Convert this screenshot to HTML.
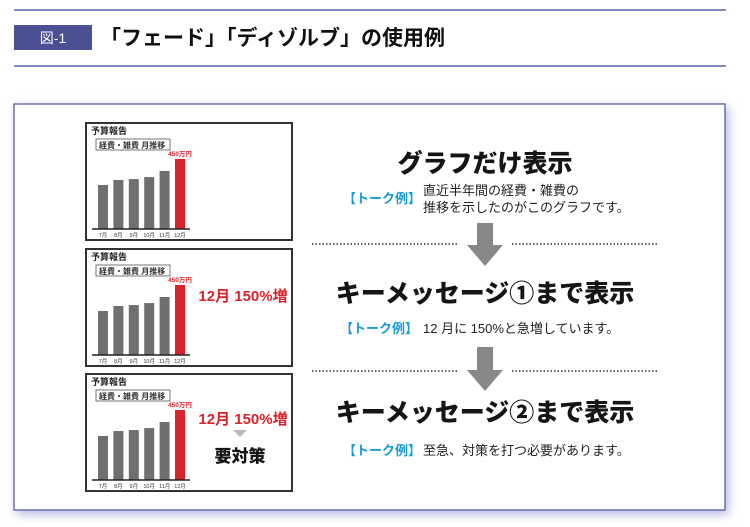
<!DOCTYPE html>
<html><head><meta charset="utf-8">
<style>
html,body{margin:0;padding:0;background:#fff;}
svg{display:block;font-family:"Liberation Sans","Noto Sans CJK JP",sans-serif;}
</style></head>
<body>
<svg id="root" width="750" height="527" viewBox="0 0 750 527" xmlns="http://www.w3.org/2000/svg">
<defs>
<filter id="sh" x="-5%" y="-5%" width="110%" height="115%">
<feDropShadow dx="3" dy="4" stdDeviation="5" flood-color="#9a9ad8" flood-opacity="0.7"/>
</filter>
</defs>
<line x1="14" y1="10" x2="726" y2="10" stroke="#5a5ea8" stroke-width="1.5"/>
<rect x="14" y="25" width="78" height="25" fill="#4b4f94"/>
<text x="53" y="43" font-size="14" fill="#fff" text-anchor="middle">図-1</text>
<text x="100" y="45" font-size="21" font-weight="bold" fill="#111">「フェード」「ディゾルブ」の使用例</text>
<line x1="14" y1="66" x2="726" y2="66" stroke="#5a5ea8" stroke-width="1.5"/>

<rect x="14" y="104" width="711" height="406" fill="#fff" stroke="#4b4f94" stroke-width="1.2" filter="url(#sh)"/>

<g id="charts"></g>

<!-- right side -->
<text x="485" y="172" font-size="25" font-weight="900" fill="#151515" text-anchor="middle">グラフだけ表示</text>
<text x="343" y="203" font-size="13" font-weight="bold" fill="#1a9ad6">【トーク例】</text>
<text x="423" y="195" font-size="13" fill="#222">直近半年間の経費・雑費の</text>
<text x="423" y="212" font-size="13" fill="#222">推移を示したのがこのグラフです。</text>
<line x1="312" y1="244" x2="458" y2="244" stroke="#333" stroke-width="1.5" stroke-dasharray="1.5 2"/>
<line x1="512" y1="244" x2="657" y2="244" stroke="#333" stroke-width="1.5" stroke-dasharray="1.5 2"/>
<polygon points="477,223 493,223 493,245 503,245 485,266 467,245 477,245" fill="#888"/>

<text x="485" y="302" font-size="25" font-weight="900" fill="#151515" text-anchor="middle">キーメッセージ①まで表示</text>
<text x="340" y="333" font-size="13" font-weight="bold" fill="#1a9ad6">【トーク例】</text>
<text x="423" y="333" font-size="13" fill="#222">12 月に 150%と急増しています。</text>
<line x1="312" y1="371" x2="458" y2="371" stroke="#333" stroke-width="1.5" stroke-dasharray="1.5 2"/>
<line x1="512" y1="371" x2="657" y2="371" stroke="#333" stroke-width="1.5" stroke-dasharray="1.5 2"/>
<polygon points="477,347 493,347 493,370 503,370 485,391 467,370 477,370" fill="#888"/>

<text x="485" y="421" font-size="25" font-weight="900" fill="#151515" text-anchor="middle">キーメッセージ②まで表示</text>
<text x="343" y="455" font-size="13" font-weight="bold" fill="#1a9ad6">【トーク例】</text>
<text x="423" y="455" font-size="13" fill="#222">至急、対策を打つ必要があります。</text>
</svg>
<script>
const months = ["7月","8月","9月","10月","11月","12月"];
const expenses = [283, 315, 321, 334, 373, 450];
const highlightLabel = "450万円";
const boxTops = [123, 249, 374];

const NS = "http://www.w3.org/2000/svg";
const g = document.getElementById("charts");
function mk(tag, attrs, parent) {
  const e = document.createElementNS(NS, tag);
  for (const k in attrs) e.setAttribute(k, attrs[k]);
  parent.appendChild(e);
  return e;
}
const maxV = Math.max(...expenses);
function yScale(v, base) { return base - v / maxV * 70; }
function xBand(i) { return 98 + i * 15.4; }

boxTops.forEach((top, bi) => {
  const grp = mk("g", {}, g);
  
  
  const frame = mk("rect", {x: 86, y: top, width: 206, height: 117, fill: "#fff", stroke: "#333", "stroke-width": 2}, grp);
  
  
  const t = mk("text", {x: 91, y: top + 11, "font-size": 9, "font-weight": "bold", fill: "#222"}, grp);
  t.textContent = "予算報告";
  
  
  const sb = mk("rect", {x: 96, y: top + 16, width: 74, height: 11, fill: "#fff", stroke: "#555", "stroke-width": 0.8}, grp);
  
  
  const st = mk("text", {x: 99, y: top + 25, "font-size": 8, "font-weight": "bold", fill: "#333"}, grp);
  st.textContent = "経費・雑費 月推移";
  
  
  const base = top + 106;
  expenses.forEach((v, i) => {
    const y = yScale(v, base);
    const last = i === expenses.length - 1;
    const b = mk("rect", {x: xBand(i), y: y, width: 10, height: base - y, fill: last ? "#d9232b" : "#6f6f6f"}, grp);
    
    
    const ml = mk("text", {x: xBand(i) + 5, y: base + 8, "font-size": 5.5, fill: "#333", "text-anchor": "middle"}, grp);
    ml.textContent = months[i];
    
    
    if (last) {
      const vl = mk("text", {x: xBand(i) + 5, y: y - 3, "font-size": 6.5, "font-weight": "bold", fill: "#d9232b", "text-anchor": "middle"}, grp);
      vl.textContent = highlightLabel;
      
      
    }
  });
  const ax = mk("line", {x1: 92, y1: base, x2: 190, y2: base, stroke: "#222", "stroke-width": 1.5}, grp);
  
  
  if (bi >= 1) {
    const km = mk("text", {x: 243, y: top + (bi === 1 ? 52 : 50), "font-size": 15, "font-weight": "bold", fill: "#d9232b", "text-anchor": "middle"}, grp);
    km.textContent = "12月 150%増";
    
    
  }
  if (bi === 2) {
    const tri = mk("polygon", {points: "233,430 247,430 240,437", fill: "#bbb"}, grp);
    
    
    const k2 = mk("text", {x: 240, y: top + 88, "font-size": 17, "font-weight": "900", fill: "#151515", "text-anchor": "middle"}, grp);
    k2.textContent = "要対策";
    
    
  }
});
</script>
</body></html>
